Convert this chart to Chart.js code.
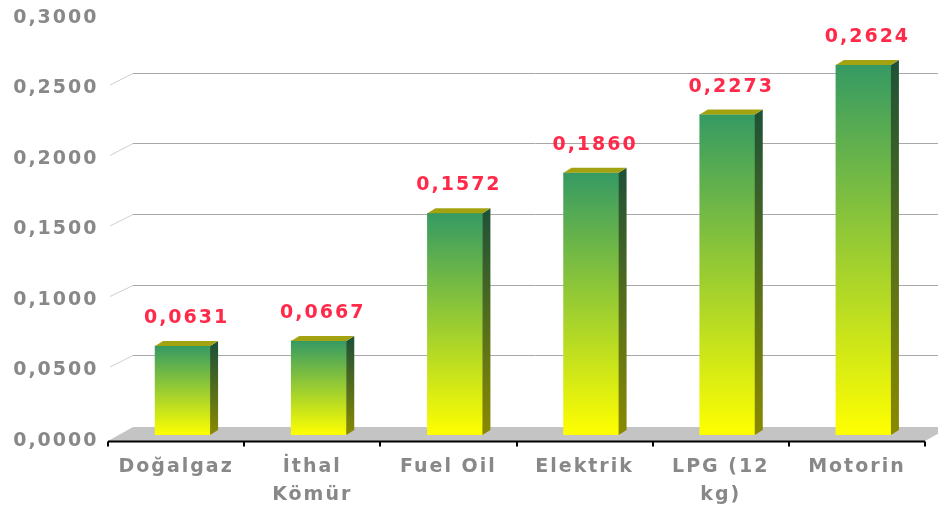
<!DOCTYPE html>
<html>
<head>
<meta charset="utf-8">
<script src="https://cdn.jsdelivr.net/npm/chart.js@4.4.1/dist/chart.umd.min.js"></script>
<style>
  body { margin: 0; background: #fff; }
  canvas { display: block; }
</style>
</head>
<body>
<canvas id="chart" width="938" height="512"></canvas>
<script>
const categories = ['Doğalgaz', ['İthal', 'Kömür'], 'Fuel Oil', 'Elektrik', ['LPG (12', 'kg)'], 'Motorin'];
const values = [0.0631, 0.0667, 0.1572, 0.1860, 0.2273, 0.2624];
const yTicks = [0, 0.05, 0.10, 0.15, 0.20, 0.25, 0.30];

const DX = 8, DY = -5;          // bar depth
const SHIFT = 6.5;              // axis/floor offset from bar plane
const grey = '#888888';
const font = { family: 'DejaVu Sans', size: 19, weight: 'bold' };

function fmt(v) {
    return v.toFixed(4).replace('.', ',');
}

function frontGradient(ctx) {
    const chart = ctx.chart;
    if (!chart.chartArea || ctx.parsed === undefined) return '#99cc33';
    const y = chart.scales.y;
    const top = y.getPixelForValue(ctx.parsed.y);
    const base = y.getPixelForValue(0);
    const g = chart.ctx.createLinearGradient(0, top, 0, base);
    g.addColorStop(0, '#359a63');
    g.addColorStop(1, '#ffff00');
    return g;
}

const depth = {
    id: 'depth',
    beforeDraw(chart) {
        chart.ctx.letterSpacing = '2px';
    },
    beforeDatasetsDraw(chart) {
        const { ctx, scales: { x, y } } = chart;
        const base = y.getPixelForValue(0);
        const left = x.left - SHIFT, right = x.right - SHIFT;
        ctx.save();
        // floor
        ctx.fillStyle = '#c4c4c4';
        ctx.beginPath();
        ctx.moveTo(left, base + 6);
        ctx.lineTo(right, base + 6);
        ctx.lineTo(right + 25, base - 8);
        ctx.lineTo(left + 25, base - 8);
        ctx.closePath();
        ctx.fill();
        // back wall grid
        yTicks.forEach(v => {
            if (v === 0 || v === 0.3) return;
            const py = y.getPixelForValue(v);
            const gy = Math.round(py - 9.5) + 0.5;
            ctx.strokeStyle = '#cfcfcf';
            ctx.lineWidth = 1;
            ctx.beginPath();
            ctx.moveTo(x.left - 4.5, py + 2.5);
            ctx.lineTo(x.left + 18.5, gy);
            ctx.stroke();
            ctx.strokeStyle = '#a8a8a8';
            ctx.beginPath();
            ctx.moveTo(x.left + 18.5, gy);
            ctx.lineTo(chart.width, gy);
            ctx.stroke();
        });
        // axis line with ticks
        const ay = base + 6.5;
        ctx.strokeStyle = '#000';
        ctx.lineWidth = 2;
        ctx.beginPath();
        ctx.moveTo(left, ay);
        ctx.lineTo(right, ay);
        const step = (x.right - x.left) / categories.length;
        for (let i = 0; i <= categories.length; i++) {
            const tx = Math.round(left + i * step);
            ctx.moveTo(tx, ay);
            ctx.lineTo(tx, ay + 5);
        }
        ctx.stroke();
        ctx.restore();
    },
    afterDatasetsDraw(chart) {
        const ctx = chart.ctx;
        const meta = chart.getDatasetMeta(0);
        ctx.save();
        meta.data.forEach((bar, i) => {
            const { x: cx, y: top, base, width } = bar.getProps(['x', 'y', 'base', 'width'], true);
            const l = cx - width / 2, r = cx + width / 2;
            // side face
            const sg = ctx.createLinearGradient(0, top, 0, base);
            sg.addColorStop(0, '#1f5236');
            sg.addColorStop(1, '#8a8a00');
            ctx.fillStyle = sg;
            ctx.beginPath();
            ctx.moveTo(r, top);
            ctx.lineTo(r + DX, top + DY);
            ctx.lineTo(r + DX, base + DY);
            ctx.lineTo(r, base);
            ctx.closePath();
            ctx.fill();
            // top face
            ctx.fillStyle = '#a3a312';
            ctx.beginPath();
            ctx.moveTo(l, top);
            ctx.lineTo(l + DX, top + DY);
            ctx.lineTo(r + DX, top + DY);
            ctx.lineTo(r, top);
            ctx.closePath();
            ctx.fill();
            // value label
            ctx.fillStyle = '#ff2a4a';
            ctx.font = 'bold 19px "DejaVu Sans"';
            ctx.textAlign = 'center';
            ctx.textBaseline = 'alphabetic';
            ctx.fillText(fmt(values[i]), cx + 4, top - 23);
        });
        ctx.restore();
    }
};

new Chart(document.getElementById('chart'), {
    type: 'bar',
    data: {
        labels: categories,
        datasets: [{
            data: values,
            backgroundColor: frontGradient,
            borderWidth: 0,
            barThickness: 55
        }]
    },
    options: {
        responsive: false,
        animation: false,
        layout: { padding: { top: 12, right: SHIFT, left: 0, bottom: 0 } },
        plugins: { legend: { display: false }, tooltip: { enabled: false } },
        scales: {
            x: {
                grid: { display: false, drawTicks: false },
                border: { display: false },
                ticks: {
                    color: grey,
                    font: Object.assign({ lineHeight: 1.47 }, font),
                    padding: 18,
                    labelOffset: -SHIFT,
                    maxRotation: 0,
                    autoSkip: false
                },
                afterFit(s) { s.height = 77; s.paddingLeft = 0; s.paddingRight = 0; }
            },
            y: {
                min: 0,
                max: 0.3,
                grid: { display: false, drawTicks: false },
                border: { display: false },
                afterBuildTicks(s) { s.ticks = yTicks.map(v => ({ value: v })); },
                ticks: {
                    color: grey,
                    font: font,
                    padding: 16,
                    labelOffset: 6,
                    callback: v => fmt(v)
                },
                afterFit(s) { s.width = 114.5; s.paddingTop = 0; s.paddingBottom = 0; }
            }
        }
    },
    plugins: [depth]
});
</script>
</body>
</html>
